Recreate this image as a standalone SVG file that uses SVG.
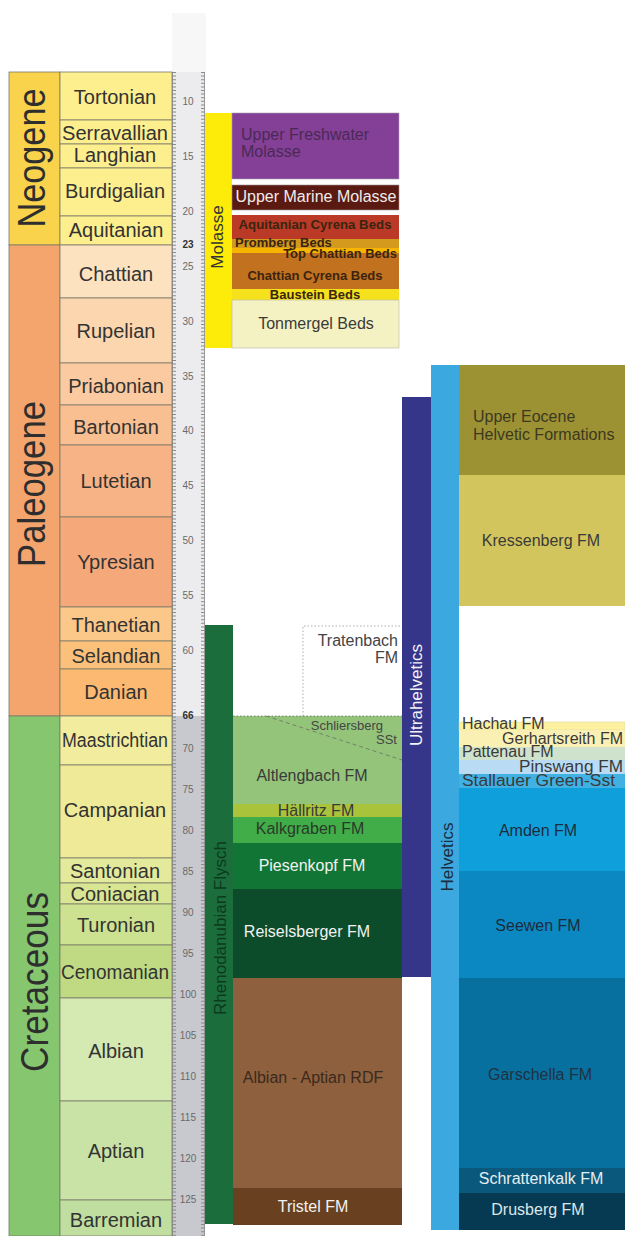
<svg xmlns="http://www.w3.org/2000/svg" width="625" height="1236" viewBox="0 0 625 1236">
<style>
text{font-family:"Liberation Sans",Arial,sans-serif}
.st{font-size:20px;fill:#333;text-anchor:middle}
.per{font-size:38px;fill:#2e2e2e;text-anchor:middle}
.fm{font-size:16px;fill:#3a3a3a}
.mid{text-anchor:middle}
.end{text-anchor:end}
.bd{font-size:13px;font-weight:bold;fill:#3a2410;text-anchor:middle}
.sc{font-size:10px;fill:#6a6a6a;text-anchor:middle}
.scb{font-size:10px;font-weight:bold;fill:#333;text-anchor:middle}
.ln{stroke:#7a7a6a;stroke-width:0.8}
.wt{fill:#f2f2f2}
</style>
<rect width="625" height="1236" fill="#ffffff"/>

<!-- Time scale ruler -->
<g id="scale">
<rect x="172" y="13" width="34" height="59" fill="#f7f7f7"/>
<rect x="172" y="72" width="33" height="644" fill="#ececee"/>
<rect x="172" y="716" width="33" height="520" fill="#c8c9ce"/>
<line x1="174" y1="72" x2="174" y2="1236" stroke="#8a8a8a" stroke-width="4" stroke-dasharray="1 2.6"/>
<line x1="203" y1="72" x2="203" y2="1236" stroke="#8a8a8a" stroke-width="4" stroke-dasharray="1 2.6"/>
<line x1="172.5" y1="72" x2="172.5" y2="1236" stroke="#8a8a8a" stroke-width="0.8"/>
<line x1="204.5" y1="72" x2="204.5" y2="1236" stroke="#8a8a8a" stroke-width="0.8"/>
<text class="sc" x="188" y="105">10</text>
<text class="sc" x="188" y="160">15</text>
<text class="sc" x="188" y="215">20</text>
<text class="scb" x="188" y="248">23</text>
<text class="sc" x="188" y="270">25</text>
<text class="sc" x="188" y="325">30</text>
<text class="sc" x="188" y="380">35</text>
<text class="sc" x="188" y="434">40</text>
<text class="sc" x="188" y="489">45</text>
<text class="sc" x="188" y="544">50</text>
<text class="sc" x="188" y="599">55</text>
<text class="sc" x="188" y="654">60</text>
<text class="scb" x="188" y="719">66</text>
<text class="sc" x="188" y="752">70</text>
<text class="sc" x="188" y="793">75</text>
<text class="sc" x="188" y="834">80</text>
<text class="sc" x="188" y="875">85</text>
<text class="sc" x="188" y="916">90</text>
<text class="sc" x="188" y="957">95</text>
<text class="sc" x="188" y="998">100</text>
<text class="sc" x="188" y="1039">105</text>
<text class="sc" x="188" y="1080">110</text>
<text class="sc" x="188" y="1121">115</text>
<text class="sc" x="188" y="1162">120</text>
<text class="sc" x="188" y="1203">125</text>
</g>

<!-- Periods -->
<g id="neogene">
<rect x="9" y="72" width="51" height="173" fill="#f9d34b" class="ln"/>
<text class="per" transform="translate(45,158) rotate(-90)" textLength="139" lengthAdjust="spacingAndGlyphs">Neogene</text>
</g>
<g id="paleogene">
<rect x="9" y="245" width="51" height="471" fill="#f4a56d" class="ln"/>
<text class="per" transform="translate(45,484) rotate(-90)" textLength="166" lengthAdjust="spacingAndGlyphs">Paleogene</text>
</g>
<g id="cretaceous">
<rect x="9" y="716" width="51" height="520" fill="#85c66e" class="ln"/>
<text class="per" transform="translate(48,982) rotate(-90)" textLength="180" lengthAdjust="spacingAndGlyphs">Cretaceous</text>
</g>

<!-- Stages -->
<g id="tortonian"><rect x="60" y="72" width="112" height="48" fill="#fdee8e" class="ln"/><text class="st" x="115" y="104">Tortonian</text></g>
<g id="serravallian"><rect x="60" y="120" width="112" height="24" fill="#fdee8e" class="ln"/><text class="st" x="115" y="140" textLength="106" lengthAdjust="spacingAndGlyphs">Serravallian</text></g>
<g id="langhian"><rect x="60" y="144" width="112" height="24" fill="#fdee8e" class="ln"/><text class="st" x="115" y="162">Langhian</text></g>
<g id="burdigalian"><rect x="60" y="168" width="112" height="48" fill="#fdee8e" class="ln"/><text class="st" x="115" y="198">Burdigalian</text></g>
<g id="aquitanian"><rect x="60" y="216" width="112" height="29" fill="#fdee8e" class="ln"/><text class="st" x="116" y="237">Aquitanian</text></g>

<g id="chattian"><rect x="60" y="245" width="112" height="53" fill="#fde2c0" class="ln"/><text class="st" x="116" y="281">Chattian</text></g>
<g id="rupelian"><rect x="60" y="298" width="112" height="65" fill="#fcd6ae" class="ln"/><text class="st" x="116" y="338">Rupelian</text></g>
<g id="priabonian"><rect x="60" y="363" width="112" height="42" fill="#fbcaa0" class="ln"/><text class="st" x="116" y="393">Priabonian</text></g>
<g id="bartonian"><rect x="60" y="405" width="112" height="40" fill="#f9bf91" class="ln"/><text class="st" x="116" y="434">Bartonian</text></g>
<g id="lutetian"><rect x="60" y="445" width="112" height="72" fill="#f7b385" class="ln"/><text class="st" x="116" y="488">Lutetian</text></g>
<g id="ypresian"><rect x="60" y="517" width="112" height="90" fill="#f5a97a" class="ln"/><text class="st" x="116" y="569">Ypresian</text></g>
<g id="thanetian"><rect x="60" y="607" width="112" height="34" fill="#fbc88a" class="ln"/><text class="st" x="116" y="632">Thanetian</text></g>
<g id="selandian"><rect x="60" y="641" width="112" height="28" fill="#fbc17b" class="ln"/><text class="st" x="116" y="663">Selandian</text></g>
<g id="danian"><rect x="60" y="669" width="112" height="47" fill="#fbb972" class="ln"/><text class="st" x="116" y="699">Danian</text></g>

<g id="maastrichtian"><rect x="60" y="716" width="112" height="49" fill="#f2ec9e" class="ln"/><text class="st" x="115" y="747" textLength="106" lengthAdjust="spacingAndGlyphs">Maastrichtian</text></g>
<g id="campanian"><rect x="60" y="765" width="112" height="93" fill="#eeea98" class="ln"/><text class="st" x="115" y="817">Campanian</text></g>
<g id="santonian"><rect x="60" y="858" width="112" height="25" fill="#e3ea9b" class="ln"/><text class="st" x="115" y="878">Santonian</text></g>
<g id="coniacian"><rect x="60" y="883" width="112" height="21" fill="#d8e694" class="ln"/><text class="st" x="115" y="901">Coniacian</text></g>
<g id="turonian"><rect x="60" y="904" width="112" height="41" fill="#cde290" class="ln"/><text class="st" x="116" y="932">Turonian</text></g>
<g id="cenomanian"><rect x="60" y="945" width="112" height="53" fill="#bfda83" class="ln"/><text class="st" x="115" y="979" textLength="108" lengthAdjust="spacingAndGlyphs">Cenomanian</text></g>
<g id="albian"><rect x="60" y="998" width="112" height="103" fill="#d5e9b3" class="ln"/><text class="st" x="116" y="1058">Albian</text></g>
<g id="aptian"><rect x="60" y="1101" width="112" height="99" fill="#c9e3a7" class="ln"/><text class="st" x="116" y="1158">Aptian</text></g>
<g id="barremian"><rect x="60" y="1200" width="112" height="36" fill="#bfdea0" class="ln"/><text class="st" x="116" y="1227">Barremian</text></g>

<!-- Molasse -->
<g id="molasse">
<rect x="205" y="113" width="27" height="235" fill="#fdeb0a"/>
<text class="fm mid" style="font-size:17px;fill:#333" transform="translate(223,237) rotate(-90)">Molasse</text>
</g>
<g id="upper-freshwater-molasse">
<rect x="232" y="113" width="167" height="66" fill="#843f97" stroke="#a8a0b0" stroke-width="0.6"/>
<text class="fm" x="241" y="140" style="fill:#4a2a55">Upper Freshwater</text>
<text class="fm" x="241" y="157" style="fill:#4a2a55">Molasse</text>
</g>
<g id="upper-marine-molasse">
<rect x="232" y="185" width="167" height="25" fill="#5a1a12" stroke="#a09090" stroke-width="0.6"/>
<text class="fm mid" x="316" y="202" style="fill:#f0ecea">Upper Marine Molasse</text>
</g>
<g id="aquitanian-cyrena-beds">
<rect x="232" y="215" width="167" height="24" fill="#bb3a27"/>
<text class="bd" x="315" y="229" textLength="153" lengthAdjust="spacingAndGlyphs">Aquitanian Cyrena Beds</text>
</g>
<g id="promberg-beds">
<rect x="232" y="239" width="167" height="9" fill="#d39a1e"/>
</g>
<g id="top-chattian-beds">
<rect x="232" y="248" width="167" height="5" fill="#f7b500"/>
</g>
<g id="chattian-cyrena-beds">
<rect x="232" y="253" width="167" height="36" fill="#c2711f"/>
<text class="bd" x="315" y="280">Chattian Cyrena Beds</text>
</g>
<g id="baustein-beds">
<rect x="232" y="289" width="167" height="11" fill="#f5e21c"/>
<text class="bd" x="315" y="299">Baustein Beds</text>
</g>
<g id="tonmergel-beds">
<rect x="232" y="300" width="167" height="48" fill="#f4f1c2" stroke="#b8b8a8" stroke-width="0.6"/>
<text class="fm mid" x="316" y="329">Tonmergel Beds</text>
</g>
<text class="bd" x="235" y="247" style="text-anchor:start">Promberg Beds</text>
<text class="bd" x="397" y="258" style="text-anchor:end">Top Chattian Beds</text>

<!-- Rhenodanubian Flysch -->
<g id="rhenodanubian-flysch">
<rect x="205" y="625" width="28" height="599" fill="#1c6d3c"/>
<text class="fm mid" style="font-size:17px;fill:#0b3a1c" transform="translate(226,928) rotate(-90)">Rhenodanubian Flysch</text>
</g>
<g id="tratenbach-fm">
<path d="M303,716 V626 H402" fill="none" stroke="#9a9a9a" stroke-width="0.8" stroke-dasharray="1.5 2"/>
<text class="fm end" x="398" y="646" style="fill:#444">Tratenbach</text>
<text class="fm end" x="398" y="663" style="fill:#444">FM</text>
</g>
<g id="altlengbach-fm">
<rect x="233" y="716" width="169" height="88" fill="#93c47a"/>
<text class="fm mid" x="312" y="781">Altlengbach FM</text>
</g>
<g id="schliersberg-sst">
<text class="fm end" x="383" y="730" style="font-size:13px;fill:#454545">Schliersberg</text>
<text class="fm end" x="397" y="744" style="font-size:13px;fill:#454545">SSt</text>
</g>
<g id="haellritz-fm">
<rect x="233" y="804" width="169" height="13" fill="#a9c43b"/>
<text class="fm mid" x="316" y="816">Hällritz FM</text>
</g>
<g id="kalkgraben-fm">
<rect x="233" y="817" width="169" height="26" fill="#41ad48"/>
<text class="fm mid" x="310" y="834" style="fill:#2a3a2a">Kalkgraben FM</text>
</g>
<g id="piesenkopf-fm">
<rect x="233" y="843" width="169" height="46" fill="#117535"/>
<text class="fm mid wt" x="312" y="871">Piesenkopf FM</text>
</g>
<g id="reiselsberger-fm">
<rect x="233" y="889" width="169" height="89" fill="#0c4c2a"/>
<text class="fm mid wt" x="307" y="937">Reiselsberger FM</text>
</g>
<g id="albian-aptian-rdf">
<rect x="233" y="978" width="169" height="210" fill="#8f603d"/>
<text class="fm mid" x="313" y="1083" style="fill:#3a2a1e">Albian - Aptian RDF</text>
</g>
<g id="tristel-fm">
<rect x="233" y="1188" width="169" height="37" fill="#6a4120"/>
<text class="fm mid wt" x="313" y="1212">Tristel FM</text>
</g>

<!-- Ultrahelvetics -->
<g id="ultrahelvetics">
<rect x="402" y="397" width="29" height="580" fill="#35358a"/>
<text class="fm mid" style="font-size:17px;fill:#f4f4f8" transform="translate(422,695) rotate(-90)">Ultrahelvetics</text>
</g>

<!-- Helvetics -->
<g id="helvetics">
<rect x="431" y="365" width="28" height="865" fill="#3ba8e0"/>
<text class="fm mid" style="font-size:17px;fill:#1c2c3c" transform="translate(453,857) rotate(-90)">Helvetics</text>
</g>
<g id="upper-eocene-helvetic-formations">
<rect x="459" y="365" width="166" height="110" fill="#9c9234"/>
<text class="fm" x="473" y="422" style="fill:#3c3920">Upper Eocene</text>
<text class="fm" x="473" y="440" style="fill:#3c3920">Helvetic Formations</text>
</g>
<g id="kressenberg-fm">
<rect x="459" y="475" width="166" height="131" fill="#d3c55d"/>
<text class="fm mid" x="541" y="546">Kressenberg FM</text>
</g>
<g id="hachau-fm">
<rect x="459" y="722" width="166" height="8" fill="#fdf1a0" stroke="#d8d0a0" stroke-width="0.5"/>
</g>
<g id="gerhartsreith-fm">
<rect x="459" y="730" width="166" height="17" fill="#fbf0b4"/>
</g>
<g id="pattenau-fm">
<rect x="459" y="747" width="166" height="13" fill="#cfe2cc"/>
</g>
<g id="pinswang-fm">
<rect x="459" y="760" width="166" height="14" fill="#b9dcf4"/>
</g>
<g id="stallauer-green-sst">
<rect x="459" y="774" width="166" height="14" fill="#40b1e2"/>
</g>
<text class="fm" x="462" y="729">Hachau FM</text>
<text class="fm end" x="623" y="744">Gerhartsreith FM</text>
<text class="fm" x="462" y="757">Pattenau FM</text>
<text class="fm end" x="623" y="772" textLength="104" lengthAdjust="spacingAndGlyphs">Pinswang FM</text>
<text class="fm" x="462" y="786" textLength="153" lengthAdjust="spacingAndGlyphs">Stallauer Green-Sst</text>
<g id="amden-fm">
<rect x="459" y="788" width="166" height="83" fill="#0fa0dc"/>
<text class="fm mid" x="538" y="836" style="fill:#1c2c3c">Amden FM</text>
</g>
<g id="seewen-fm">
<rect x="459" y="871" width="166" height="107" fill="#0b88c2"/>
<text class="fm mid" x="538" y="931" style="fill:#1c2c3c">Seewen FM</text>
</g>
<g id="garschella-fm">
<rect x="459" y="978" width="166" height="190" fill="#08709e"/>
<text class="fm mid" x="540" y="1080" style="fill:#1f3242">Garschella FM</text>
</g>
<g id="schrattenkalk-fm">
<rect x="459" y="1168" width="166" height="25" fill="#0a587b"/>
<text class="fm mid" x="541" y="1184" style="fill:#e6eef2">Schrattenkalk FM</text>
</g>
<g id="drusberg-fm">
<rect x="459" y="1193" width="166" height="37" fill="#063a52"/>
<text class="fm mid" x="538" y="1215" style="fill:#dde6ea">Drusberg FM</text>
</g>

<!-- Boundary lines -->
<g id="connectors">
<line x1="233" y1="716" x2="402" y2="716" stroke="#6a6a6a" stroke-width="0.8" stroke-dasharray="1.5 2"/>
<line x1="266" y1="716" x2="402" y2="760" stroke="#6e7a66" stroke-width="0.9" stroke-dasharray="4 3"/>
</g>
</svg>
